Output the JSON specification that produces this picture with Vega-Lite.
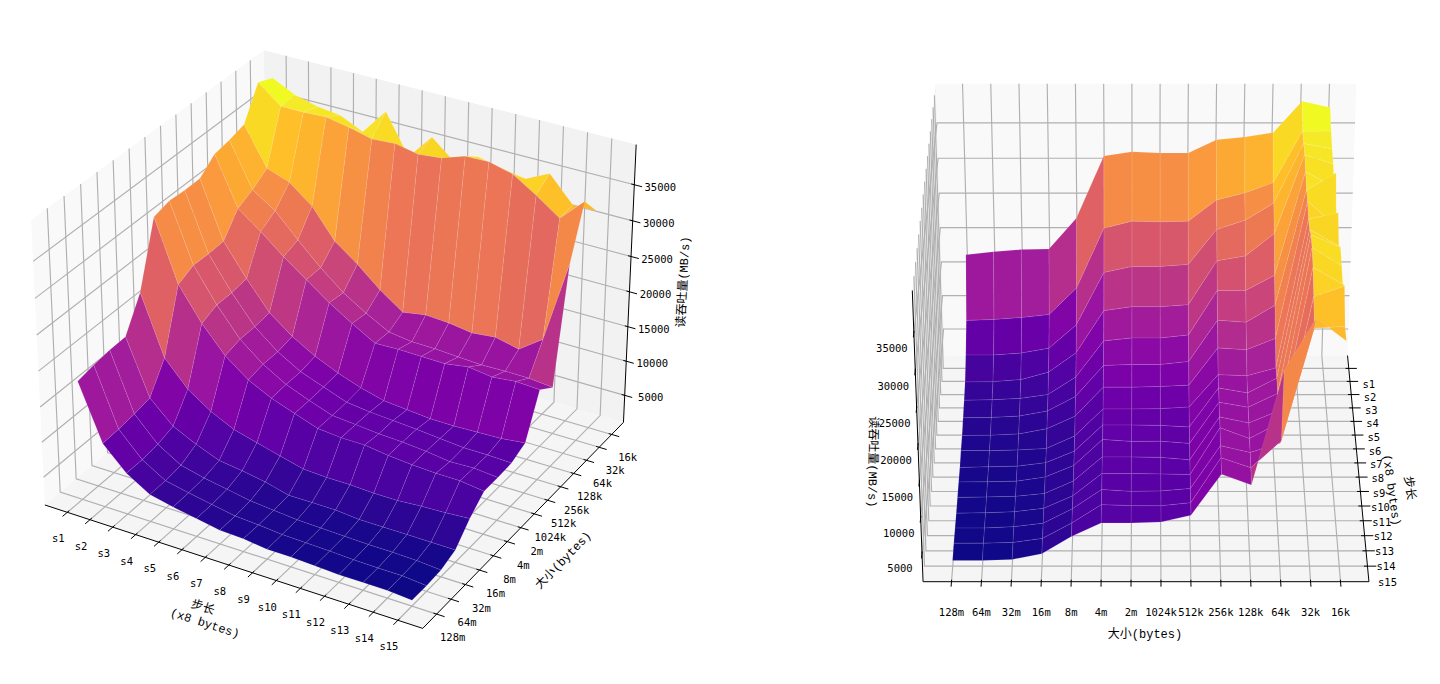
{"$schema":"https://vega.github.io/schema/vega-lite/v6.json","width":1440,"height":684,"autosize":{"type":"fit","contains":"padding"},"padding":0,"background":"white","config":{"view":{"stroke":null}},"resolve":{"scale":{"fill":"independent"}},
"datasets":{
"panes":[{"v":0,"pane":"x","o":0,"nx":0,"ny":0,"nz":0},{"v":0,"pane":"x","o":1,"nx":0,"ny":1,"nz":0},{"v":0,"pane":"x","o":2,"nx":0,"ny":1,"nz":1},{"v":0,"pane":"x","o":3,"nx":0,"ny":0,"nz":1},{"v":0,"pane":"y","o":0,"nx":0,"ny":1,"nz":0},{"v":0,"pane":"y","o":1,"nx":1,"ny":1,"nz":0},{"v":0,"pane":"y","o":2,"nx":1,"ny":1,"nz":1},{"v":0,"pane":"y","o":3,"nx":0,"ny":1,"nz":1},{"v":0,"pane":"z","o":0,"nx":0,"ny":0,"nz":0},{"v":0,"pane":"z","o":1,"nx":1,"ny":0,"nz":0},{"v":0,"pane":"z","o":2,"nx":1,"ny":1,"nz":0},{"v":0,"pane":"z","o":3,"nx":0,"ny":1,"nz":0},{"v":1,"pane":"x","o":0,"nx":0,"ny":0,"nz":0},{"v":1,"pane":"x","o":1,"nx":0,"ny":1,"nz":0},{"v":1,"pane":"x","o":2,"nx":0,"ny":1,"nz":1},{"v":1,"pane":"x","o":3,"nx":0,"ny":0,"nz":1},{"v":1,"pane":"y","o":0,"nx":0,"ny":0,"nz":0},{"v":1,"pane":"y","o":1,"nx":1,"ny":0,"nz":0},{"v":1,"pane":"y","o":2,"nx":1,"ny":0,"nz":1},{"v":1,"pane":"y","o":3,"nx":0,"ny":0,"nz":1},{"v":1,"pane":"z","o":0,"nx":0,"ny":0,"nz":0},{"v":1,"pane":"z","o":1,"nx":1,"ny":0,"nz":0},{"v":1,"pane":"z","o":2,"nx":1,"ny":1,"nz":0},{"v":1,"pane":"z","o":3,"nx":0,"ny":1,"nz":0}],
"axes":[{"v":0,"a":"x","o":0,"nx":0,"ny":0,"nz":0},{"v":0,"a":"x","o":1,"nx":1,"ny":0,"nz":0},{"v":0,"a":"y","o":0,"nx":1,"ny":0,"nz":0},{"v":0,"a":"y","o":1,"nx":1,"ny":1,"nz":0},{"v":0,"a":"z","o":0,"nx":1,"ny":1,"nz":0},{"v":0,"a":"z","o":1,"nx":1,"ny":1,"nz":1},{"v":1,"a":"x","o":0,"nx":1,"ny":1,"nz":0},{"v":1,"a":"x","o":1,"nx":0,"ny":1,"nz":0},{"v":1,"a":"y","o":0,"nx":1,"ny":0,"nz":0},{"v":1,"a":"y","o":1,"nx":1,"ny":1,"nz":0},{"v":1,"a":"z","o":0,"nx":1,"ny":0,"nz":0},{"v":1,"a":"z","o":1,"nx":1,"ny":0,"nz":1}],
"ticks":[{"axis":"x","value":0,"label":"s1"},{"axis":"x","value":1,"label":"s2"},{"axis":"x","value":2,"label":"s3"},{"axis":"x","value":3,"label":"s4"},{"axis":"x","value":4,"label":"s5"},{"axis":"x","value":5,"label":"s6"},{"axis":"x","value":6,"label":"s7"},{"axis":"x","value":7,"label":"s8"},{"axis":"x","value":8,"label":"s9"},{"axis":"x","value":9,"label":"s10"},{"axis":"x","value":10,"label":"s11"},{"axis":"x","value":11,"label":"s12"},{"axis":"x","value":12,"label":"s13"},{"axis":"x","value":13,"label":"s14"},{"axis":"x","value":14,"label":"s15"},{"axis":"y","value":0,"label":"128m"},{"axis":"y","value":1,"label":"64m"},{"axis":"y","value":2,"label":"32m"},{"axis":"y","value":3,"label":"16m"},{"axis":"y","value":4,"label":"8m"},{"axis":"y","value":5,"label":"4m"},{"axis":"y","value":6,"label":"2m"},{"axis":"y","value":7,"label":"1024k"},{"axis":"y","value":8,"label":"512k"},{"axis":"y","value":9,"label":"256k"},{"axis":"y","value":10,"label":"128k"},{"axis":"y","value":11,"label":"64k"},{"axis":"y","value":12,"label":"32k"},{"axis":"y","value":13,"label":"16k"},{"axis":"z","value":5000,"label":"5000"},{"axis":"z","value":10000,"label":"10000"},{"axis":"z","value":15000,"label":"15000"},{"axis":"z","value":20000,"label":"20000"},{"axis":"z","value":25000,"label":"25000"},{"axis":"z","value":30000,"label":"30000"},{"axis":"z","value":35000,"label":"35000"}],
"titles":[{"v":0,"key":"x1","text":"步长"},{"v":0,"key":"x2","text":"(x8 bytes)"},{"v":0,"key":"y","text":"大小(bytes)"},{"v":0,"key":"z","text":"读吞吐量(MB/s)"},{"v":1,"key":"x1","text":"步长"},{"v":1,"key":"x2","text":"(x8 bytes)"},{"v":1,"key":"y","text":"大小(bytes)"},{"v":1,"key":"z","text":"读吞吐量(MB/s)"}],
"surface":[
{"s":0,"b":13,"z":38800},{"s":0,"b":12,"z":39700},{"s":0,"b":11,"z":35300},{"s":0,"b":10,"z":34700},{"s":0,"b":9,"z":34300},{"s":0,"b":8,"z":32450},{"s":0,"b":7,"z":32450},{"s":0,"b":6,"z":32600},{"s":0,"b":5,"z":32000},{"s":0,"b":4,"z":23150},{"s":0,"b":3,"z":18700},{"s":0,"b":2,"z":18600},{"s":0,"b":1,"z":18300},{"s":0,"b":0,"z":17850},
{"s":1,"b":13,"z":37200},{"s":1,"b":12,"z":37170},{"s":1,"b":11,"z":29960},{"s":1,"b":10,"z":28520},{"s":1,"b":9,"z":27500},{"s":1,"b":8,"z":24490},{"s":1,"b":7,"z":24400},{"s":1,"b":6,"z":24490},{"s":1,"b":5,"z":23480},{"s":1,"b":4,"z":14830},{"s":1,"b":3,"z":10940},{"s":1,"b":2,"z":10510},{"s":1,"b":1,"z":10220},{"s":1,"b":0,"z":10080},
{"s":2,"b":13,"z":36400},{"s":2,"b":12,"z":37150},{"s":2,"b":11,"z":28830},{"s":2,"b":10,"z":26400},{"s":2,"b":9,"z":25100},{"s":2,"b":8,"z":20080},{"s":2,"b":7,"z":19800},{"s":2,"b":6,"z":19800},{"s":2,"b":5,"z":18930},{"s":2,"b":4,"z":11330},{"s":2,"b":3,"z":7890},{"s":2,"b":2,"z":7170},{"s":2,"b":1,"z":6880},{"s":2,"b":0,"z":6880},
{"s":3,"b":13,"z":36000},{"s":3,"b":12,"z":37300},{"s":3,"b":11,"z":26290},{"s":3,"b":10,"z":23140},{"s":3,"b":9,"z":22430},{"s":3,"b":8,"z":16140},{"s":3,"b":7,"z":15860},{"s":3,"b":6,"z":15860},{"s":3,"b":5,"z":15290},{"s":3,"b":4,"z":9140},{"s":3,"b":3,"z":6290},{"s":3,"b":2,"z":5200},{"s":3,"b":1,"z":4900},{"s":3,"b":0,"z":4860},
{"s":4,"b":13,"z":34500},{"s":4,"b":12,"z":36700},{"s":4,"b":11,"z":22200},{"s":4,"b":10,"z":20060},{"s":4,"b":9,"z":20060},{"s":4,"b":8,"z":13660},{"s":4,"b":7,"z":13230},{"s":4,"b":6,"z":13230},{"s":4,"b":5,"z":12810},{"s":4,"b":4,"z":7540},{"s":4,"b":3,"z":4980},{"s":4,"b":2,"z":4400},{"s":4,"b":1,"z":4200},{"s":4,"b":0,"z":4130},
{"s":5,"b":13,"z":38200},{"s":5,"b":12,"z":35900},{"s":5,"b":11,"z":19800},{"s":5,"b":10,"z":17400},{"s":5,"b":9,"z":17690},{"s":5,"b":8,"z":11750},{"s":5,"b":7,"z":11330},{"s":5,"b":6,"z":11330},{"s":5,"b":5,"z":11180},{"s":5,"b":4,"z":6660},{"s":5,"b":3,"z":4540},{"s":5,"b":2,"z":3800},{"s":5,"b":1,"z":3600},{"s":5,"b":0,"z":3550},
{"s":6,"b":13,"z":32700},{"s":6,"b":12,"z":36100},{"s":6,"b":11,"z":17000},{"s":6,"b":10,"z":15370},{"s":6,"b":9,"z":15650},{"s":6,"b":8,"z":10300},{"s":6,"b":7,"z":10100},{"s":6,"b":6,"z":10010},{"s":6,"b":5,"z":10010},{"s":6,"b":4,"z":5790},{"s":6,"b":3,"z":3960},{"s":6,"b":2,"z":3200},{"s":6,"b":1,"z":3000},{"s":6,"b":0,"z":2970},
{"s":7,"b":13,"z":36300},{"s":7,"b":12,"z":35450},{"s":7,"b":11,"z":14720},{"s":7,"b":10,"z":13620},{"s":7,"b":9,"z":13760},{"s":7,"b":8,"z":9130},{"s":7,"b":7,"z":8900},{"s":7,"b":6,"z":8850},{"s":7,"b":5,"z":8850},{"s":7,"b":4,"z":4930},{"s":7,"b":3,"z":3100},{"s":7,"b":2,"z":2900},{"s":7,"b":1,"z":2800},{"s":7,"b":0,"z":2820},
{"s":8,"b":13,"z":33600},{"s":8,"b":12,"z":35800},{"s":8,"b":11,"z":15240},{"s":8,"b":10,"z":13150},{"s":8,"b":9,"z":13850},{"s":8,"b":8,"z":8260},{"s":8,"b":7,"z":8500},{"s":8,"b":6,"z":8540},{"s":8,"b":5,"z":8540},{"s":8,"b":4,"z":4770},{"s":8,"b":3,"z":3100},{"s":8,"b":2,"z":2600},{"s":8,"b":1,"z":2500},{"s":8,"b":0,"z":2400},
{"s":9,"b":13,"z":35200},{"s":9,"b":12,"z":36900},{"s":9,"b":11,"z":15050},{"s":9,"b":10,"z":13100},{"s":9,"b":9,"z":13800},{"s":9,"b":8,"z":7950},{"s":9,"b":7,"z":8250},{"s":9,"b":6,"z":8230},{"s":9,"b":5,"z":8510},{"s":9,"b":4,"z":4760},{"s":9,"b":3,"z":3090},{"s":9,"b":2,"z":2500},{"s":9,"b":1,"z":2400},{"s":9,"b":0,"z":2390},
{"s":10,"b":13,"z":34500},{"s":10,"b":12,"z":37000},{"s":10,"b":11,"z":14570},{"s":10,"b":10,"z":12900},{"s":10,"b":9,"z":13740},{"s":10,"b":8,"z":7650},{"s":10,"b":7,"z":8000},{"s":10,"b":6,"z":8060},{"s":10,"b":5,"z":8060},{"s":10,"b":4,"z":4600},{"s":10,"b":3,"z":2800},{"s":10,"b":2,"z":2400},{"s":10,"b":1,"z":2300},{"s":10,"b":0,"z":2250},
{"s":11,"b":13,"z":33900},{"s":11,"b":12,"z":36150},{"s":11,"b":11,"z":14900},{"s":11,"b":10,"z":12720},{"s":11,"b":9,"z":14240},{"s":11,"b":8,"z":7620},{"s":11,"b":7,"z":7700},{"s":11,"b":6,"z":7760},{"s":11,"b":5,"z":7760},{"s":11,"b":4,"z":4590},{"s":11,"b":3,"z":2790},{"s":11,"b":2,"z":2300},{"s":11,"b":1,"z":2150},{"s":11,"b":0,"z":2100},
{"s":12,"b":13,"z":35500},{"s":12,"b":12,"z":34100},{"s":12,"b":11,"z":14150},{"s":12,"b":10,"z":12800},{"s":12,"b":9,"z":13770},{"s":12,"b":8,"z":7730},{"s":12,"b":7,"z":7400},{"s":12,"b":6,"z":7320},{"s":12,"b":5,"z":7590},{"s":12,"b":4,"z":4850},{"s":12,"b":3,"z":2790},{"s":12,"b":2,"z":2300},{"s":12,"b":1,"z":2100},{"s":12,"b":0,"z":2100},
{"s":13,"b":13,"z":32000},{"s":13,"b":12,"z":31800},{"s":13,"b":11,"z":16500},{"s":13,"b":10,"z":12760},{"s":13,"b":9,"z":14130},{"s":13,"b":8,"z":7840},{"s":13,"b":7,"z":7400},{"s":13,"b":6,"z":7430},{"s":13,"b":5,"z":7570},{"s":13,"b":4,"z":4970},{"s":13,"b":3,"z":2780},{"s":13,"b":2,"z":2200},{"s":13,"b":1,"z":2100},{"s":13,"b":0,"z":2090},
{"s":14,"b":13,"z":32000},{"s":14,"b":12,"z":35000},{"s":14,"b":11,"z":28000},{"s":14,"b":10,"z":12440},{"s":14,"b":9,"z":13940},{"s":14,"b":8,"z":8220},{"s":14,"b":7,"z":7260},{"s":14,"b":6,"z":7130},{"s":14,"b":5,"z":7130},{"s":14,"b":4,"z":5220},{"s":14,"b":3,"z":2770},{"s":14,"b":2,"z":1950},{"s":14,"b":1,"z":1800},{"s":14,"b":0,"z":1820}
]},
"layer":[
{"data":{"name":"panes"},
"transform":[{"calculate":"(datum.nx-0.5)*1.1905","as":"hx"},{"calculate":"(datum.ny-0.5)*1.1905","as":"hy"},{"calculate":"(datum.nz-0.5)*0.8929","as":"hz"},{"calculate":"datum.v==0?-0.8660254:0","as":"sa"},{"calculate":"datum.v==0?0.5:1","as":"ca"},{"calculate":"-datum.sa*datum.hx+datum.ca*datum.hy","as":"xv"},{"calculate":"-0.5*datum.ca*datum.hx-0.5*datum.sa*datum.hy+0.8660254*datum.hz","as":"yv"},{"calculate":"0.8660254*datum.ca*datum.hx+0.8660254*datum.sa*datum.hy+0.5*datum.hz","as":"wd"},{"calculate":"(datum.v==0?339.5:1146)+3636*datum.xv/(10-datum.wd)","as":"sx"},{"calculate":"325.4-3636*datum.yv/(10-datum.wd)","as":"sy"},{"calculate":"datum.v+datum.pane","as":"id"}],
"mark":{"type":"line","strokeWidth":0},
"encoding":{"x":{"field":"sx","type":"quantitative","scale":{"domain":[0,1440],"nice":false,"zero":false},"axis":null},"y":{"field":"sy","type":"quantitative","scale":{"domain":[684,0],"nice":false,"zero":false},"axis":null},"order":{"field":"o"},"detail":{"field":"id"},"fill":{"field":"pane","type":"nominal","scale":{"domain":["x","y","z"],"range":["#f9f9f9","#f2f2f2","#f5f5f5"]},"legend":null}}},
{"data":{"name":"ticks"},
"transform":[{"calculate":"[0,1]","as":"views"},{"flatten":["views"],"as":["v"]},{"calculate":"[0,1,2]","as":"pts"},{"flatten":["pts"],"as":["pt"]},{"calculate":"datum.axis=='x'?(datum.value+1)/16:(datum.axis=='y'?(datum.value+0.95)/14.9:(datum.value-1000)/39500)","as":"nt"},{"calculate":"datum.v==0?1:0","as":"py"},{"calculate":"datum.axis=='x'?datum.nt:(datum.pt==0?1:0)","as":"nx"},{"calculate":"datum.axis=='y'?datum.nt:(datum.axis=='x'?(datum.pt==0?1-datum.py:datum.py):(datum.pt==2?1-datum.py:datum.py))","as":"ny"},{"calculate":"datum.axis=='z'?datum.nt:(datum.pt==2?1:0)","as":"nz"},{"calculate":"(datum.nx-0.5)*1.1905","as":"hx"},{"calculate":"(datum.ny-0.5)*1.1905","as":"hy"},{"calculate":"(datum.nz-0.5)*0.8929","as":"hz"},{"calculate":"datum.v==0?-0.8660254:0","as":"sa"},{"calculate":"datum.v==0?0.5:1","as":"ca"},{"calculate":"-datum.sa*datum.hx+datum.ca*datum.hy","as":"xv"},{"calculate":"-0.5*datum.ca*datum.hx-0.5*datum.sa*datum.hy+0.8660254*datum.hz","as":"yv"},{"calculate":"0.8660254*datum.ca*datum.hx+0.8660254*datum.sa*datum.hy+0.5*datum.hz","as":"wd"},{"calculate":"(datum.v==0?339.5:1146)+3636*datum.xv/(10-datum.wd)","as":"sx"},{"calculate":"325.4-3636*datum.yv/(10-datum.wd)","as":"sy"},{"calculate":"datum.v+datum.label","as":"id"}],
"mark":{"type":"line","stroke":"#b0b0b0","strokeWidth":1.15},
"encoding":{"x":{"field":"sx","type":"quantitative"},"y":{"field":"sy","type":"quantitative"},"order":{"field":"pt"},"detail":{"field":"id"}}},
{"data":{"name":"axes"},
"transform":[{"calculate":"(datum.nx-0.5)*1.1905","as":"hx"},{"calculate":"(datum.ny-0.5)*1.1905","as":"hy"},{"calculate":"(datum.nz-0.5)*0.8929","as":"hz"},{"calculate":"datum.v==0?-0.8660254:0","as":"sa"},{"calculate":"datum.v==0?0.5:1","as":"ca"},{"calculate":"-datum.sa*datum.hx+datum.ca*datum.hy","as":"xv"},{"calculate":"-0.5*datum.ca*datum.hx-0.5*datum.sa*datum.hy+0.8660254*datum.hz","as":"yv"},{"calculate":"0.8660254*datum.ca*datum.hx+0.8660254*datum.sa*datum.hy+0.5*datum.hz","as":"wd"},{"calculate":"(datum.v==0?339.5:1146)+3636*datum.xv/(10-datum.wd)","as":"sx"},{"calculate":"325.4-3636*datum.yv/(10-datum.wd)","as":"sy"},{"calculate":"datum.v+datum.a","as":"id"}],
"mark":{"type":"line","stroke":"#000000","strokeWidth":1},
"encoding":{"x":{"field":"sx","type":"quantitative"},"y":{"field":"sy","type":"quantitative"},"order":{"field":"o"},"detail":{"field":"id"}}},
{"data":{"name":"ticks"},
"transform":[{"calculate":"[0,1]","as":"views"},{"flatten":["views"],"as":["v"]},{"calculate":"[-0.008,0.02]","as":"ds"},{"flatten":["ds"],"as":["d"]},{"calculate":"datum.axis=='x'?(datum.value+1)/16:(datum.axis=='y'?(datum.value+0.95)/14.9:(datum.value-1000)/39500)","as":"nt"},{"calculate":"datum.axis=='x'?datum.nt:1+datum.d","as":"nx"},{"calculate":"datum.axis=='x'?(datum.v==0?-datum.d:1+datum.d):(datum.axis=='y'?datum.nt:(datum.v==0?1:0))","as":"ny"},{"calculate":"datum.axis=='z'?datum.nt:0","as":"nz"},{"calculate":"(datum.nx-0.5)*1.1905","as":"hx"},{"calculate":"(datum.ny-0.5)*1.1905","as":"hy"},{"calculate":"(datum.nz-0.5)*0.8929","as":"hz"},{"calculate":"datum.v==0?-0.8660254:0","as":"sa"},{"calculate":"datum.v==0?0.5:1","as":"ca"},{"calculate":"-datum.sa*datum.hx+datum.ca*datum.hy","as":"xv"},{"calculate":"-0.5*datum.ca*datum.hx-0.5*datum.sa*datum.hy+0.8660254*datum.hz","as":"yv"},{"calculate":"0.8660254*datum.ca*datum.hx+0.8660254*datum.sa*datum.hy+0.5*datum.hz","as":"wd"},{"calculate":"(datum.v==0?339.5:1146)+3636*datum.xv/(10-datum.wd)","as":"sx"},{"calculate":"325.4-3636*datum.yv/(10-datum.wd)","as":"sy"},{"calculate":"datum.v+datum.label","as":"id"}],
"mark":{"type":"line","stroke":"#000000","strokeWidth":1},
"encoding":{"x":{"field":"sx","type":"quantitative"},"y":{"field":"sy","type":"quantitative"},"order":{"field":"d"},"detail":{"field":"id"}}},
{"data":{"name":"ticks"},
"transform":[{"calculate":"[0,1]","as":"views"},{"flatten":["views"],"as":["v"]},{"calculate":"datum.axis=='x'?(datum.value+1)/16:(datum.axis=='y'?(datum.value+0.95)/14.9:(datum.value-1000)/39500)","as":"nt"},{"calculate":"datum.axis=='x'?datum.nt:1","as":"nx"},{"calculate":"datum.axis=='x'?(datum.v==0?0:1):(datum.axis=='y'?datum.nt:(datum.v==0?1:0))","as":"ny"},{"calculate":"datum.axis=='z'?datum.nt:0","as":"nz"},{"calculate":"(datum.nx-0.5)*1.1905","as":"hx"},{"calculate":"(datum.ny-0.5)*1.1905","as":"hy"},{"calculate":"(datum.nz-0.5)*0.8929","as":"hz"},{"calculate":"datum.v==0?-0.8660254:0","as":"sa"},{"calculate":"datum.v==0?0.5:1","as":"ca"},{"calculate":"-datum.sa*datum.hx+datum.ca*datum.hy","as":"xv"},{"calculate":"-0.5*datum.ca*datum.hx-0.5*datum.sa*datum.hy+0.8660254*datum.hz","as":"yv"},{"calculate":"0.8660254*datum.ca*datum.hx+0.8660254*datum.sa*datum.hy+0.5*datum.hz","as":"wd"},{"calculate":"(datum.v==0?339.5:1146)+3636*datum.xv/(10-datum.wd)+(datum.v==0?(datum.axis=='x'?-9:(datum.axis=='y'?16:26)):(datum.axis=='x'?20:(datum.axis=='y'?0:-22)))","as":"sx"},{"calculate":"325.4-3636*datum.yv/(10-datum.wd)+(datum.v==0?(datum.axis=='x'?27:(datum.axis=='y'?24:3)):(datum.axis=='x'?16.5:(datum.axis=='y'?31:16)))","as":"sy"}],
"mark":{"type":"text","font":"DejaVu Sans Mono, Noto Sans CJK SC","fontSize":10.5,"fill":"#000000","align":"center","baseline":"middle"},
"encoding":{"x":{"field":"sx","type":"quantitative"},"y":{"field":"sy","type":"quantitative"},"text":{"field":"label"}}},
{"data":{"name":"surface"},
"transform":[{"calculate":"[0,1]","as":"views"},{"flatten":["views"],"as":["v"]},{"calculate":"[0,1,2,3,4]","as":"cs"},{"flatten":["cs"],"as":["c"]},{"calculate":"datum.s-((datum.c==1||datum.c==2)?1:0)","as":"cx"},{"calculate":"datum.b-((datum.c==2||datum.c==3)?1:0)","as":"cy"},{"filter":"datum.cx>=0&&datum.cx<14&&datum.cy>=0&&datum.cy<13"},{"calculate":"datum.c==4?null:datum.z","as":"zm"},{"joinaggregate":[{"op":"mean","field":"zm","as":"zc"}],"groupby":["v","cx","cy"]},{"calculate":"datum.v+'_'+datum.cx+'_'+datum.cy","as":"cell"},{"calculate":"(datum.s+1)/16","as":"nx"},{"calculate":"(datum.b+0.95)/14.9","as":"ny"},{"calculate":"(datum.z-1000)/39500","as":"nz"},{"calculate":"(datum.nx-0.5)*1.1905","as":"hx"},{"calculate":"(datum.ny-0.5)*1.1905","as":"hy"},{"calculate":"(datum.nz-0.5)*0.8929","as":"hz"},{"calculate":"datum.v==0?-0.8660254:0","as":"sa"},{"calculate":"datum.v==0?0.5:1","as":"ca"},{"calculate":"-datum.sa*datum.hx+datum.ca*datum.hy","as":"xv"},{"calculate":"-0.5*datum.ca*datum.hx-0.5*datum.sa*datum.hy+0.8660254*datum.hz","as":"yv"},{"calculate":"0.8660254*datum.ca*datum.hx+0.8660254*datum.sa*datum.hy+0.5*datum.hz","as":"wd"},{"calculate":"(datum.v==0?339.5:1146)+3636*datum.xv/(10-datum.wd)","as":"sx"},{"calculate":"325.4-3636*datum.yv/(10-datum.wd)","as":"sy"}],
"mark":{"type":"line","stroke":"#ffffff","strokeOpacity":0.22,"strokeWidth":0.45},
"encoding":{"x":{"field":"sx","type":"quantitative"},"y":{"field":"sy","type":"quantitative"},"order":{"field":"c"},"detail":{"field":"cell"},"fill":{"field":"zc","type":"quantitative","scale":{"scheme":"plasma","domain":[1900,38217],"clamp":true},"legend":null}}},
{"data":{"name":"titles"},
"transform":[{"calculate":"datum.v==0?{x1:[203,607,18],x2:[205,623,18],y:[563,560,-46],z:[683,282,-87]}[datum.key]:{x1:[1410,488,82],x2:[1392,490,82],y:[1145,634,0],z:[873,462,91]}[datum.key]","as":"place"},{"calculate":"datum.place[0]","as":"sx"},{"calculate":"datum.place[1]","as":"sy"},{"calculate":"datum.place[2]","as":"rot"}],
"mark":{"type":"text","font":"Liberation Mono, Noto Sans CJK SC","fontSize":12,"fill":"#000000","align":"center","baseline":"middle"},
"encoding":{"x":{"field":"sx","type":"quantitative"},"y":{"field":"sy","type":"quantitative"},"text":{"field":"text"},"angle":{"field":"rot","type":"quantitative","scale":null}}}
]}
